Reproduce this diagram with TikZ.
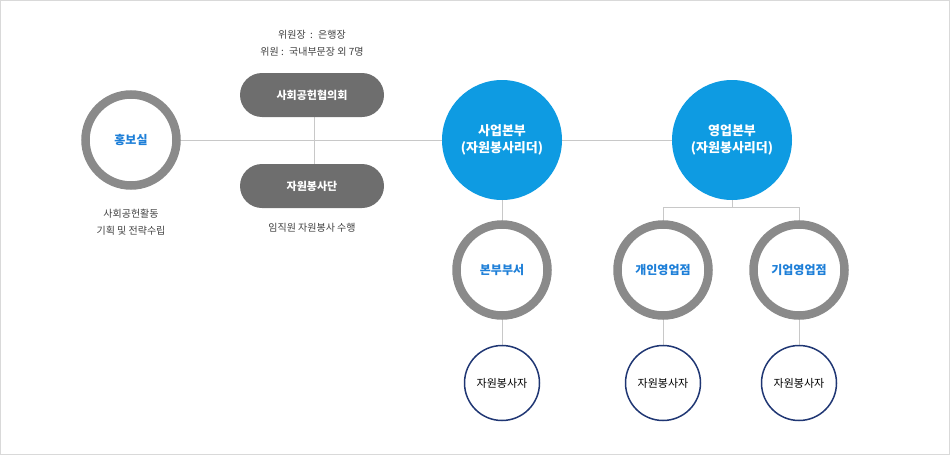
\documentclass[tikz,border=0pt]{standalone}
\usepackage{fontspec}
\setmainfont{Noto Sans CJK KR}
\usetikzlibrary{positioning}
\definecolor{ringgray}{HTML}{8A8A8A}
\definecolor{pillgray}{HTML}{6E6E6E}
\definecolor{deptblue}{HTML}{1E7FD8}
\definecolor{headblue}{HTML}{0E9BE2}
\definecolor{navy}{HTML}{1F3673}
\definecolor{linegray}{HTML}{C8C8C8}
\begin{document}
\begin{tikzpicture}[x=1pt,y=-1pt,
                ringnode/.style={circle, draw=ringgray, line width=8.5pt, fill=white, minimum size=91pt, inner sep=0pt, text=deptblue, font=\bfseries\fontsize{12}{14}\selectfont},
                headnode/.style={circle, fill=headblue, minimum size=120pt, inner sep=0pt, text=white, align=center, font=\bfseries\fontsize{13}{17}\selectfont},
                pillnode/.style={rectangle, rounded corners=22pt, fill=pillgray, minimum width=144pt, minimum height=44pt, text=white, font=\bfseries\fontsize{11}{13}\selectfont},
                smallnode/.style={circle, draw=navy, line width=1.5pt, fill=white, minimum size=75pt, inner sep=0pt, font=\fontsize{11}{13}\selectfont},
                notenode/.style={align=center, text=black!75, font=\fontsize{10}{17}\selectfont},
                link/.style={draw=linegray, line width=0.8pt},
            ]
            \draw[draw=black!15] (0.5,0.5) rectangle (949.5,454.5);
            % Lines
            \coordinate (split_top) at (732,207);
            \coordinate (split_left) at (663,207);
            \coordinate (split_right) at (799,207);
            \draw[link] (131,140) -- (732,140);
            \draw[link] (314,95) -- (314,186);
            \draw[link] (502,140) -- (502,383);
            \draw[link] (732,140) -- (split_top);
            \draw[link] (split_left) -- (split_right);
            \draw[link] (split_left) -- (663,383);
            \draw[link] (split_right) -- (799,383);

            % Nodes
            \node[ringnode]  (pr_office)   at (131,140) {홍보실};
            \node[notenode]  (pr_note)     at (131,222) {사회공헌활동\\기획 및 전략수립};

            \node[pillnode]  (council)     at (312,95)  {사회공헌협의회};
            \node[notenode]  (council_note) at (312,43) {위원장 \ : \ 은행장\\위원 : \ 국내부문장 외 7명};
            \node[pillnode]  (volunteers)  at (312,186) {자원봉사단};
            \node[notenode]  (vol_note)    at (312,228) {임직원 자원봉사 수행};

            \node[headnode]  (biz_hq)      at (502,140) {사업본부\\(자원봉사리더)};
            \node[headnode]  (sales_hq)    at (732,140) {영업본부\\(자원봉사리더)};

            \node[ringnode]  (hq_dept)     at (502,270) {본부부서};
            \node[ringnode]  (retail)      at (663,270) {개인영업점};
            \node[ringnode]  (corporate)   at (799,270) {기업영업점};

            \node[smallnode] (vol_a)       at (502,383) {자원봉사자};
            \node[smallnode] (vol_b)       at (663,383) {자원봉사자};
            \node[smallnode] (vol_c)       at (799,383) {자원봉사자};
            \useasboundingbox (0,0) rectangle (950,455);
        \end{tikzpicture}
\end{document}
